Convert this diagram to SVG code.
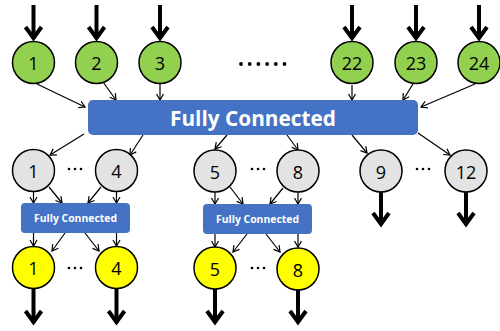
<svg xmlns="http://www.w3.org/2000/svg" width="500" height="331" viewBox="0 0 500 331">
  <style>
    .green { fill: #92D050; stroke: #000; stroke-width: 1.5; }
    .gray { fill: #E3E3E3; stroke: #000; stroke-width: 1.5; }
    .yellow { fill: #FFFF00; stroke: #000; stroke-width: 1.5; }
    .fc { fill: #4472C4; }
    .num { font-family: "Open Sans", "Noto Sans", sans-serif; font-size: 18px; fill: #000; text-anchor: middle; dominant-baseline: central; }
    .fcText { font-family: "Open Sans", "Noto Sans", sans-serif; font-weight: bold; fill: #fff; text-anchor: middle; dominant-baseline: central; }
    .thin { stroke: #000; stroke-width: 1.2; fill: none; marker-end: url(#thinHead); }
    .thick { stroke: #000; stroke-width: 4; fill: none; marker-end: url(#thickHead); }
    .dot { fill: #000; }
  </style>
  <defs>
    <marker id="thinHead" markerUnits="userSpaceOnUse" viewBox="-8 -5 10 10" refX="0" refY="0" markerWidth="10" markerHeight="10" orient="auto" overflow="visible">
      <path d="M-6,-3.5 L0,0 L-6,3.5" fill="none" stroke="#000" stroke-width="1.2"/>
    </marker>
    <marker id="thickHead" markerUnits="userSpaceOnUse" viewBox="-16 -11 18 22" refX="0" refY="0" markerWidth="18" markerHeight="22" orient="auto" overflow="visible">
      <path d="M-12,-8 L-1,0 L-12,8" fill="none" stroke="#000" stroke-width="4"/>
    </marker>
  </defs>

  <!-- connectors -->
  <g id="connectors">
    <!-- inputs -->
    <line class="thick" x1="33.5" y1="5" x2="33.5" y2="39"/>
    <line class="thick" x1="96.5" y1="5" x2="96.5" y2="39"/>
    <line class="thick" x1="160" y1="5" x2="160" y2="39"/>
    <line class="thick" x1="352" y1="5" x2="352" y2="39"/>
    <line class="thick" x1="416" y1="5" x2="416" y2="39"/>
    <line class="thick" x1="479" y1="5" x2="479" y2="39"/>
    <!-- inputs to main FC -->
    <line class="thin" x1="37" y1="84" x2="85" y2="107"/>
    <line class="thin" x1="103" y1="82" x2="116" y2="100"/>
    <line class="thin" x1="160" y1="84" x2="160" y2="100"/>
    <line class="thin" x1="352" y1="85" x2="352" y2="100"/>
    <line class="thin" x1="413" y1="84" x2="403" y2="100"/>
    <line class="thin" x1="475" y1="84" x2="421" y2="107"/>
    <!-- main FC to hidden -->
    <line class="thin" x1="84" y1="134" x2="50" y2="155"/>
    <line class="thin" x1="143" y1="135" x2="130" y2="155"/>
    <line class="thin" x1="227" y1="135" x2="215" y2="149"/>
    <line class="thin" x1="287" y1="135" x2="298" y2="150"/>
    <line class="thin" x1="352" y1="135" x2="367" y2="153"/>
    <line class="thin" x1="418" y1="133" x2="450" y2="155"/>
    <!-- hidden to left FC -->
    <line class="thin" x1="33.5" y1="192" x2="33.5" y2="203"/>
    <line class="thin" x1="49" y1="187" x2="62" y2="203"/>
    <line class="thin" x1="101" y1="187" x2="88" y2="203"/>
    <line class="thin" x1="116.5" y1="192" x2="116.5" y2="203"/>
    <!-- hidden to right FC -->
    <line class="thin" x1="215" y1="192" x2="215" y2="204"/>
    <line class="thin" x1="230" y1="187" x2="243" y2="204"/>
    <line class="thin" x1="283" y1="188" x2="270" y2="204"/>
    <line class="thin" x1="298" y1="192" x2="298" y2="204"/>
    <!-- left FC to outputs -->
    <line class="thin" x1="33.5" y1="233" x2="33.5" y2="246"/>
    <line class="thin" x1="65" y1="233" x2="52" y2="251"/>
    <line class="thin" x1="85" y1="233" x2="99" y2="251"/>
    <line class="thin" x1="116.5" y1="233" x2="116.5" y2="246"/>
    <!-- right FC to outputs -->
    <line class="thin" x1="215" y1="234" x2="215" y2="247"/>
    <line class="thin" x1="247" y1="234" x2="233" y2="252"/>
    <line class="thin" x1="266" y1="234" x2="280" y2="252"/>
    <line class="thin" x1="298" y1="234" x2="298" y2="247"/>
    <!-- outputs -->
    <line class="thick" x1="33.5" y1="289" x2="33.5" y2="323"/>
    <line class="thick" x1="116.5" y1="289" x2="116.5" y2="323"/>
    <line class="thick" x1="215" y1="289" x2="215" y2="323"/>
    <line class="thick" x1="298" y1="290" x2="298" y2="323"/>
    <line class="thick" x1="381" y1="192" x2="381" y2="225"/>
    <line class="thick" x1="466" y1="192" x2="466" y2="225"/>
  </g>

  <!-- input nodes -->
  <g id="in1"><circle class="green" cx="33.5" cy="62.5" r="21"/><text class="num" x="33.5" y="63">1</text></g>
  <g id="in2"><circle class="green" cx="96.5" cy="62.5" r="21"/><text class="num" x="96.5" y="63">2</text></g>
  <g id="in3"><circle class="green" cx="160" cy="62.5" r="21"/><text class="num" x="160" y="63">3</text></g>
  <g id="in22"><circle class="green" cx="352" cy="62.5" r="21"/><text class="num" x="352" y="63">22</text></g>
  <g id="in23"><circle class="green" cx="416" cy="62.5" r="21"/><text class="num" x="416" y="63">23</text></g>
  <g id="in24"><circle class="green" cx="479" cy="62.5" r="21"/><text class="num" x="479" y="63">24</text></g>
  <g id="inDots">
    <circle class="dot" cx="241" cy="64" r="1.9"/>
    <circle class="dot" cx="249.7" cy="64" r="1.9"/>
    <circle class="dot" cx="258.4" cy="64" r="1.9"/>
    <circle class="dot" cx="267.1" cy="64" r="1.9"/>
    <circle class="dot" cx="275.8" cy="64" r="1.9"/>
    <circle class="dot" cx="284.5" cy="64" r="1.9"/>
  </g>

  <!-- main fully connected layer -->
  <g id="fcMain">
    <rect class="fc" x="88" y="100" width="330" height="35" rx="5"/>
    <text class="fcText" x="253" y="118" font-size="21" textLength="166" lengthAdjust="spacingAndGlyphs">Fully Connected</text>
  </g>

  <!-- hidden nodes -->
  <g id="h1"><circle class="gray" cx="33.5" cy="170.5" r="21"/><text class="num" x="33.5" y="171">1</text></g>
  <g id="h4"><circle class="gray" cx="116.5" cy="170.5" r="21"/><text class="num" x="116.5" y="171">4</text></g>
  <g id="h5"><circle class="gray" cx="215" cy="171" r="21"/><text class="num" x="215" y="171.5">5</text></g>
  <g id="h8"><circle class="gray" cx="298" cy="171" r="21"/><text class="num" x="298" y="171.5">8</text></g>
  <g id="h9"><circle class="gray" cx="381" cy="171" r="21"/><text class="num" x="381" y="171.5">9</text></g>
  <g id="h12"><circle class="gray" cx="466" cy="171" r="21"/><text class="num" x="466" y="171.5">12</text></g>
  <g id="hDots">
    <circle class="dot" cx="69" cy="169" r="1.3"/><circle class="dot" cx="75" cy="169" r="1.3"/><circle class="dot" cx="81" cy="169" r="1.3"/>
    <circle class="dot" cx="252" cy="169" r="1.3"/><circle class="dot" cx="258" cy="169" r="1.3"/><circle class="dot" cx="264" cy="169" r="1.3"/>
    <circle class="dot" cx="417" cy="169" r="1.3"/><circle class="dot" cx="423" cy="169" r="1.3"/><circle class="dot" cx="429" cy="169" r="1.3"/>
  </g>

  <!-- grouped fully connected layers -->
  <g id="fcLeft">
    <rect class="fc" x="21" y="203" width="109" height="30" rx="4"/>
    <text class="fcText" x="75.5" y="218" font-size="10.5" textLength="83" lengthAdjust="spacingAndGlyphs">Fully Connected</text>
  </g>
  <g id="fcRight">
    <rect class="fc" x="203" y="204" width="109" height="30" rx="4"/>
    <text class="fcText" x="257.5" y="219" font-size="10.5" textLength="83" lengthAdjust="spacingAndGlyphs">Fully Connected</text>
  </g>

  <!-- output nodes -->
  <g id="o1"><circle class="yellow" cx="33.5" cy="267.5" r="21"/><text class="num" x="33.5" y="268">1</text></g>
  <g id="o4"><circle class="yellow" cx="116.5" cy="267.5" r="21"/><text class="num" x="116.5" y="268">4</text></g>
  <g id="o5"><circle class="yellow" cx="215" cy="268" r="21"/><text class="num" x="215" y="268.5">5</text></g>
  <g id="o8"><circle class="yellow" cx="298" cy="269" r="21"/><text class="num" x="298" y="269.5">8</text></g>
  <g id="oDots">
    <circle class="dot" cx="69" cy="268" r="1.3"/><circle class="dot" cx="75" cy="268" r="1.3"/><circle class="dot" cx="81" cy="268" r="1.3"/>
    <circle class="dot" cx="252" cy="268" r="1.3"/><circle class="dot" cx="258" cy="268" r="1.3"/><circle class="dot" cx="264" cy="268" r="1.3"/>
  </g>
</svg>
